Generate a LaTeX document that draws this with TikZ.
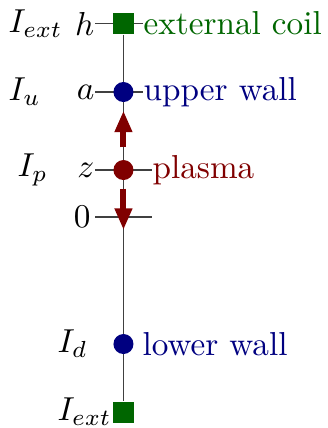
\documentclass[tikz,border=0pt]{standalone}
\usepackage{tikz}
\usetikzlibrary{arrows.meta,backgrounds}

\begin{document}
\begin{tikzpicture}[
  wall/.style={circle, fill=blue!50!black, inner sep=0pt, minimum size=0.212cm},
  plasmadot/.style={circle, fill=red!50!black, inner sep=0pt, minimum size=0.212cm},
  coil/.style={rectangle, fill=green!40!black, inner sep=0pt, minimum size=0.222cm},
  lbl/.style={inner sep=0pt, anchor=east},
  txt/.style={inner sep=0pt, anchor=west},
  tickline/.style={black!75, line width=0.4pt},
  arr/.style={-{Triangle[length=6.5pt, width=5pt]}, line width=1.8pt, red!50!black}]
\useasboundingbox (0,0) rectangle (3.462,4.531);
\node[coil] (ctop) at (1.307,4.282) {};
\node[wall] (up) at (1.307,3.557) {};
\node[plasmadot] (pl) at (1.307,2.731) {};
\coordinate (zero) at (1.307,2.234);
\node[wall] (low) at (1.307,0.889) {};
\node[coil] (cbot) at (1.307,0.169) {};
\node[lbl] (lh) at (1.006,4.282) {$h$};
\node[lbl] (la) at (1.006,3.557) {$a$};
\node[lbl] (lz) at (1.006,2.731) {$z$};
\node[lbl, inner xsep=1.2pt] (l0) at (1.006,2.234) {$0$};
\node[txt, text=green!40!black] (rtop) at (1.514,4.282) {external coil};
\node[txt, text=blue!50!black] (rup) at (1.514,3.557) {upper wall};
\node[txt, text=red!50!black] (rpl) at (1.609,2.731) {plasma};
\coordinate (zr) at (1.609,2.234);
\node[txt, text=blue!50!black] (rlow) at (1.503,0.889) {lower wall};
\node[txt] (iext) at (0.085,4.282) {$I_{ext}$};
\node[txt] (iu) at (0.085,3.557) {$I_u$};
\node[txt] (ip) at (0.180,2.731) {$I_p$};
\node[txt] (id) at (0.603,0.889) {$I_d$};
\node[txt] (iextb) at (0.603,0.169) {$I_{ext}$};
\begin{scope}[on background layer]
\draw[black!75] (ctop) -- (cbot);
\draw[tickline] (lh.east) -- (rtop.west);
\draw[tickline] (la.east) -- (rup.west);
\draw[tickline] (lz.east) -- (rpl.west);
\draw[tickline] (l0.east) -- (zr);
\end{scope}
\draw[arr, shorten <=3.6pt, shorten >=2.4pt] (pl) -- (up);
\draw[arr, shorten <=2.4pt, shorten >=-3.9pt] (pl) -- (zero);
\end{tikzpicture}
\end{document}
